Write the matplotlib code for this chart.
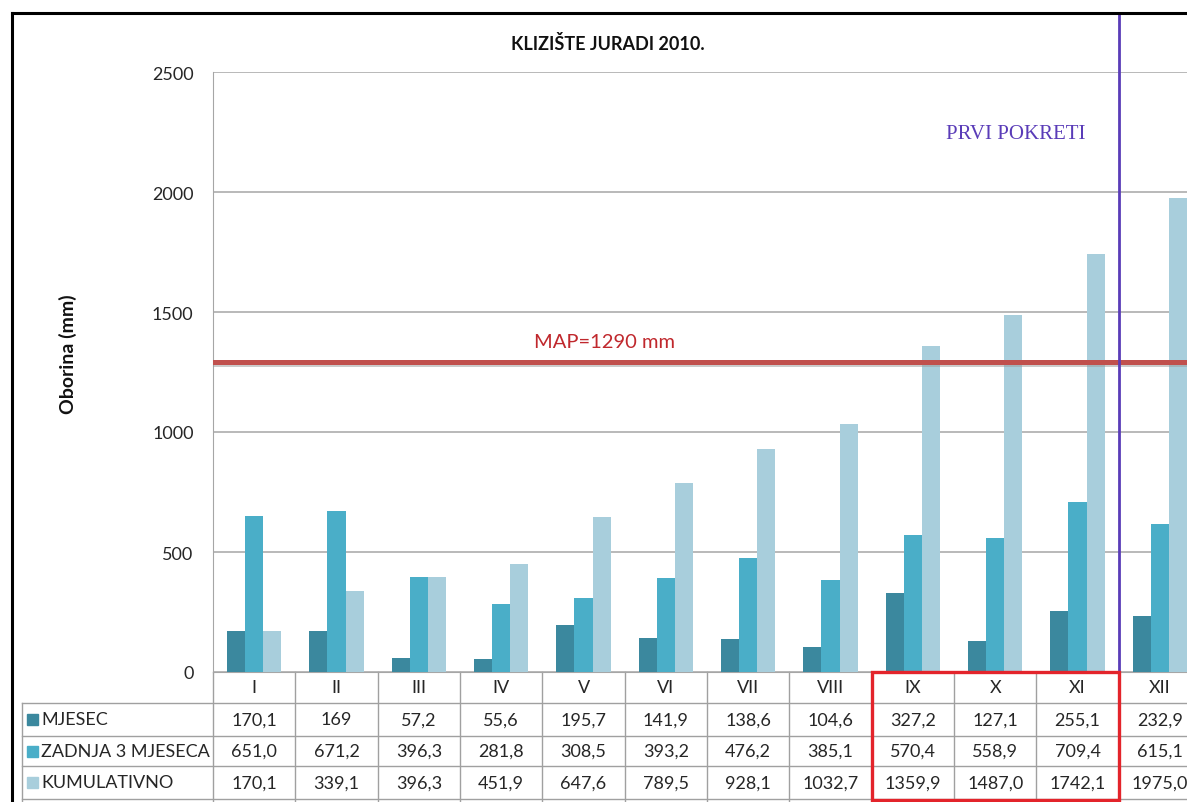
import matplotlib
matplotlib.use('Agg')
import matplotlib.pyplot as plt
import matplotlib.transforms as mtransforms
import matplotlib.patheffects as pe
from matplotlib.lines import Line2D
from matplotlib.patches import Rectangle
import numpy as np

plt.rcParams['font.family'] = ['Lato', 'DejaVu Sans']

months = ['I', 'II', 'III', 'IV', 'V', 'VI', 'VII', 'VIII', 'IX', 'X', 'XI', 'XII']
mjesec = [170.1, 169, 57.2, 55.6, 195.7, 141.9, 138.6, 104.6, 327.2, 127.1, 255.1, 232.9]
zadnja3 = [651.0, 671.2, 396.3, 281.8, 308.5, 393.2, 476.2, 385.1, 570.4, 558.9, 709.4, 615.1]
kumul = [170.1, 339.1, 396.3, 451.9, 647.6, 789.5, 928.1, 1032.7, 1359.9, 1487.0, 1742.1, 1975.0]
series_names = ['MJESEC', 'ZADNJA 3 MJESECA', 'KUMULATIVNO']
map_value = 1290

colors = ['#3b889e', '#4aaec8', '#a8cedc']
grid_col = '#a6a6a6'

W, H = 1187, 803
fig = plt.figure(figsize=(W / 100, H / 100), dpi=100)
fig.patch.set_facecolor('white')


def fx(x):
    return x / W


def fy(y):
    return 1 - y / H


# plot area: 213..1201 px wide (cut off on the right), 73..673 px high
ax = fig.add_axes([fx(213), fy(673), 988 / W, 600 / H])
x = np.arange(len(months))
bw = 0.22
for k, vals in enumerate([mjesec, zadnja3, kumul]):
    ax.bar(x + (k - 1) * bw, vals, width=bw, color=colors[k], zorder=3)

ax.set_xlim(-0.5, len(months) - 0.5)
ax.set_ylim(0, 2500)
ax.set_yticks([0, 500, 1000, 1500, 2000, 2500])
ax.set_xticks([])
ax.tick_params(axis='y', length=0, pad=14, labelsize=13, labelcolor='#262626')
ax.yaxis.grid(True, color=grid_col, lw=1.1)
ax.set_axisbelow(True)
for s in ['top', 'right']:
    ax.spines[s].set_visible(False)
ax.spines['left'].set_color(grid_col)
ax.spines['bottom'].set_color(grid_col)

# MAP line
ax.axhline(map_value, color='#c0504d', lw=3.6, zorder=4,
           path_effects=[pe.SimpleLineShadow(offset=(0, -1.5), shadow_color='#999999', alpha=0.5),
                         pe.Normal()])
ax.text(4.26, 1379, 'MAP=1290 mm', color='#c0282d', fontsize=14.5,
        ha='center', va='center', zorder=5)

# first movements
ax.axvline(10.5, ymin=0, ymax=(673 - 14) / 600, color='#5a3cb8', lw=2, clip_on=False, zorder=6)
ax.text(9.25, 2242, 'PRVI POKRETI', color='#5a3cb8', fontsize=15,
        family=['Liberation Serif', 'DejaVu Serif'], ha='center', va='center')

fig.text(fx(608), fy(44), 'KLIZIŠTE JURADI 2010.', fontsize=13, fontweight='bold',
         ha='center', va='center', color='#111111')
fig.text(fx(68), fy(354), 'Oborina (mm)', fontsize=14, fontweight='bold',
         rotation=90, ha='center', va='center', color='#111111')

# data table below the plot
tr = mtransforms.blended_transform_factory(ax.transData, ax.transAxes)
row_edges = [(673 - y) / 600 for y in [673, 704, 737, 767, 800]]
left_ax = (22 - 213) / 988
tab_col = '#a0a0a0'

for i, y in enumerate(row_edges[1:]):
    ax.add_line(Line2D([left_ax, 1], [y, y], transform=ax.transAxes, color=tab_col,
                       lw=1, clip_on=False))
ax.add_line(Line2D([left_ax, left_ax], [row_edges[1], row_edges[-1] - 0.01],
                   transform=ax.transAxes, color=tab_col, lw=1, clip_on=False))
for b in np.arange(-0.5, len(months) + 0.5, 1.0):
    ax.add_line(Line2D([b, b], [0, row_edges[-1] - 0.01], transform=tr, color=tab_col,
                       lw=1, clip_on=False))

row_mid = [(row_edges[i] + row_edges[i + 1]) / 2 for i in range(4)]
for i, m in enumerate(months):
    ax.text(i, row_mid[0], m, transform=tr, ha='center', va='center', fontsize=13,
            color='#262626', clip_on=False)

cells = [
    [f'{v:g}'.replace('.', ',') for v in mjesec],
    [f'{v:.1f}'.replace('.', ',') for v in zadnja3],
    [f'{v:.1f}'.replace('.', ',') for v in kumul],
]
for r in range(3):
    yc = row_mid[r + 1]
    for i, s in enumerate(cells[r]):
        ax.text(i, yc, s, transform=tr, ha='center', va='center', fontsize=13,
                color='#262626', clip_on=False)
    ax.add_patch(Rectangle(((27 - 213) / 988, yc - 5.5 / 600), 11 / 988, 11 / 600,
                           transform=ax.transAxes, color=colors[r], clip_on=False))
    ax.text((41 - 213) / 988, yc, series_names[r], transform=ax.transAxes, ha='left',
            va='center', fontsize=13, color='#262626', clip_on=False)

# red box around IX-XI
ax.add_patch(Rectangle((7.5, (673 - 801) / 600), 3.0, (801 - 673) / 600, transform=tr,
                       fill=False, ec='#e3242b', lw=2.4, clip_on=False, zorder=7))

# black frame (top and left edges of the screenshot)
fig.add_artist(Line2D([fx(12), 1], [fy(14), fy(14)], color='black', lw=2.2))
fig.add_artist(Line2D([fx(12), fx(12)], [fy(14), 0], color='black', lw=2.2))

fig.savefig('out.png', dpi=100)
